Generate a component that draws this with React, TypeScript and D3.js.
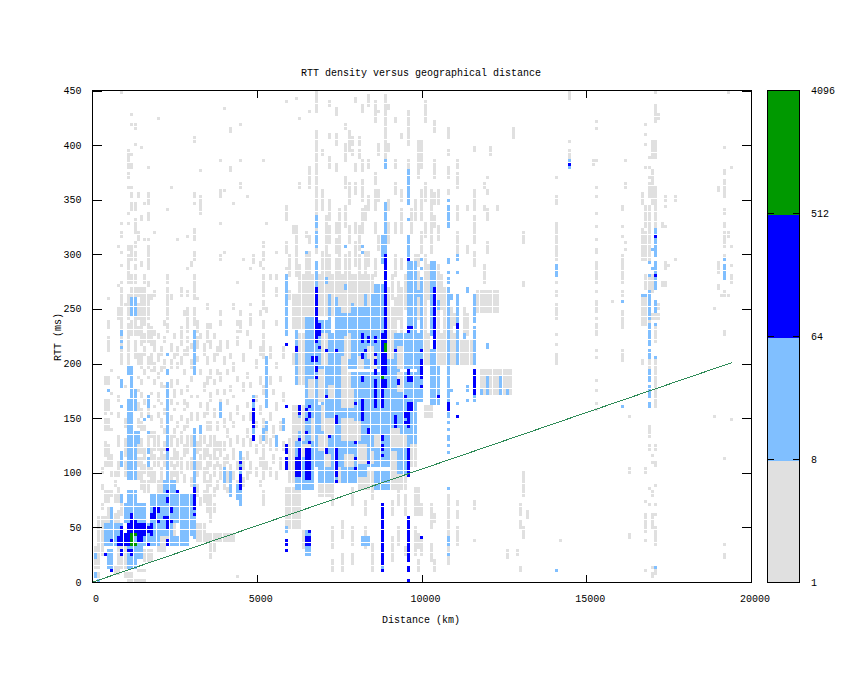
import React from "react";
import * as d3 from "d3";

// Bin sizes of the 2-D histogram
const binKm = 100;
const binMs = 3;

const xTicks = [0, 5000, 10000, 15000, 20000];
const yTicks = [0, 50, 100, 150, 200, 250, 300, 350, 400, 450];
const barTicks = [1, 8, 64, 512, 4096];
const levelColors = ["#e0e0e0", "#80bfff", "#0000ff", "#009900"];
const fitLine: [number, number][] = [[0, 0], [19400, 201]];

// Format of *Cols: [column (x100 km), msLow, msHigh, msLow, msHigh ...]
// Format of *Blocks: [colFrom, colTo, msLow, msHigh]
const grayBlocks: number[][] = [
  [7,9,14,32],[1,2,44,60],[0,1,14,24],[1,2,25,40],[0,1,3,8],[6,7,8,14],[9,11,3,8],[10,15,0,3],[13,15,9,12],[3,6,43,60],
  [29,33,45,53],[31,33,36,43],[33,37,38,45],[35,36,28,36],[38,42,36,44],[15,17,20,30],[19,24,40,53],[19,21,29,40],
  [62,84,260,281],[60,66,232,262],[68,79,243,262],[80,86,240,262],[59,66,90,100],[68,72,78,100],[74,78,90,105],[80,84,85,100],[90,94,85,100],[90,94,100,118],[58,62,50,85],
  [116,122,248,266],[111,114,199,220],[117,126,171,195],[100,102,150,162],[100,101,200,226],[104,106,199,226],[108,109,199,226],
  [166,168,235,262],[166,168,295,320],[167,168,324,345],[169,170,345,362],[169,170,396,405],[167,169,268,280],[169,171,240,245],
];
const grayCols: number[][] = [
  [0,12,14,28,33],[2,68,71,85,88,100,103],
  [3,182,189,153,167,138,150,115,127,105,110,74,83],[4,258,260,232,239,211,223,182,189,157,167,138,150,116,125,107,113,74,83,55,67],
  [5,192,195,171,174,153,156,138,141,107,116,98,102,80,83,61,67],[6,98,101,89,92,73,80,55,61],
  [7,306,308,270,272,240,251,186,189,165,171,150,156,125,134,98,110,73,86,55,64],
  [8,448,450,327,329,317,319,301,303,288,290,273,275,266,270,252,263,240,251,231,239,200,226,60,70],[9,252,255,177,180,141,150,116,131,98,110],
  [10,388,395,384,386,378,383,370,374,360,363,337,339,327,329,303,308,296,299,290,293,282,288,273,281,260,264,240,260,226,236,200,226],
  [11,426,428,418,420,390,392,378,383,360,363,352,356,345,347,339,344,302,308,296,299,273,281,260,270,226,240],
  [12,415,420,399,401,345,347,339,344,325,332,318,323,306,312,296,302,285,290,273,281,262,270,240,260,226,240,205,220],
  [13,352,356,312,320,262,270,240,255,226,232,199,208,186,189,174,177,156,165,141,150,119,134,107,113,95,101],
  [14,397,399,330,335,288,292,266,270,226,238,240,262,217,226,195,208,180,186,168,174,150,159,138,147,119,131,104,113,86,101],
  [15,345,347,312,315,273,281,258,268,240,262,235,238,220,226,208,214,189,195,162,168,138,144,113,122,101,107,83,92],
  [16,378,381,352,356,345,350,330,339,312,315,302,308,285,298,270,275,240,262,232,235,226,230,220,226,195,205,186,189,150,159,125,134,98,104,83,92],
  [17,258,262,226,232,217,226,199,208,192,195,171,174,147,153,134,138,113,122,92,104],
  [18,318,320,262,265,226,230,211,220,192,199,180,186,159,162,122,138,107,116,92,101],
  [19,424,426,223,226,202,208,186,192,165,174,150,156,122,134,107,113,83,92],
  [20,208,214,192,197,177,183,162,165,141,150,113,122,95,104,83,92],
  [21,235,238,220,223,197,202,177,180,153,159,136,141,122,128,107,116],
  [22,339,341,273,281,260,268,253,256,240,262,230,235],[23,360,363,258,262,211,217,195,202,177,186,162,168,147,153,125,134,107,113,92,101],
  [24,223,226,205,208,168,177,156,159,134,141,113,122,98,107],[25,312,314,208,214,195,199,180,186,162,165,141,147,125,131,107,119,92,101],
  [26,262,270,226,232,217,223,200,205,171,177,147,153,128,137,101,113],[27,245,248,208,211,189,195,162,168,156,159,138,144,116,125,92,98],
  [28,316,318,285,288,262,265,236,250,230,236,220,224,208,214,174,180,159,165,141,150,119,134,104,110],[29,290,293,214,218,197,203,183,188,168,171,147,156,125,134,104,113,89,95],
  [30,402,407,352,355,345,347,312,322,296,302,274,281,262,272,258,260,235,250],[31,258,260,230,240,215,223,202,207,168,171,147,156,119,128,98,110,80,89],
  [32,375,378,345,353,336,344,223,226,189,195,159,165,122,134,104,116,70,77],[33,208,217,174,183,150,156,128,134,113,122,92,104,73,83],
  [34,250,255,230,235,220,226,199,205,180,188,153,165,138,145,116,125,101,110,73,92,64,70],[35,232,236,214,220,186,195,165,174,138,147,125,134,107,116,89,98,70,80,55,67,22,30],
  [36,222,226,202,208,180,186,150,159,125,134,113,122,98,107,80,86,64,70],[37,208,214,189,195,171,177,138,147,122,128,107,113,86,92],
  [38,384,386,356,358,351,353,327,329,296,298,245,248,235,238,211,220,183,192,156,168,116,128,95,107],[39,433,435,358,360,300,302,199,205,171,177,141,150,122,128,104,113,86,92],
  [40,214,220,189,195,162,168,134,141,110,116,92,101,83,86],[41,411,416,376,379,205,208,174,180,147,156,125,131,98,107,83,89],
  [42,345,347,250,253,192,199,168,171,141,147,113,122,95,101],[43,274,276,236,240,228,230,217,223,183,189,153,162,128,134,104,110,83,92,3,5],
  [44,418,420,384,386,362,364,245,248,230,240],[45,294,296,202,208,174,183,147,153,125,131,104,113,89,95],[46,351,353,226,230,186,192,159,165,134,141,113,119,95,101],
  [47,286,288,252,255,242,245,235,238,214,220,177,183,147,156,125,131,101,110],[48,293,299],[49,195,202,165,171,141,147,119,125,98,104],
  [50,245,248,290,292,208,214,180,189,153,162,128,134,107,113,89,92],[51,384,386,306,312,296,302,286,288,273,281,262,272,250,258,232,240,100,118,205,226,171,180,141,150,116,125,95,101,70,83],
  [52,328,330,248,251,192,199,159,168,128,138,104,110],[53,278,280,205,214,180,189,147,156,122,131,98,104],[54,171,177,134,144,110,116],
  [55,300,302,278,280,262,270,235,238,195,199,156,165,122,128,95,101],[56,183,189,138,147,104,113],[57,205,214,165,174,122,128],
  [58,286,288,438,440,330,345,300,310,262,270],
  [59,280,300,260,265,100,110],[60,320,325,200,210],[61,442,444,281,325],[62,424,426,360,365,270,290],[64,315,320,281,300],[65,430,432,360,380,310,316,281,303],
  [67,430,450,394,414,336,394,300,324],[69,340,360,390,396,281,303],[70,305,335,281,303],[71,435,440,405,410,380,390,330,350,281,300,310,325],[73,428,435,400,410,375,382,320,330,300,315,281,296],[74,305,340,281,303],
  [76,415,420,385,400,360,370,325,345,281,300],[77,395,412,345,365,281,303,310,325],[78,400,408,390,396],[79,438,444,376,382,355,365,320,330,290,310],[80,400,408,388,396,303,325,281,300],[81,430,438,375,385,350,368,320,340],[82,330,345,281,303],[83,436,446,380,385,340,352,290,303],
  [85,420,440,365,375,340,360,320,330,281,296],[86,430,432,390,400,350,360,305,318],[88,388,447,379,388],[89,432,436,394,400,340,350,310,330,226,270],
  [90,226,250,260,280],[91,420,425,380,385,355,365,320,330,226,260,281,300],[92,240,275],[93,405,410,350,358,320,340,226,270,285,295],[94,250,280],[95,400,430,378,385],[96,320,340],
  [97,330,350,226,300],[98,370,405,290,300,240,285],[99,380,405,330,360,300,320],[100,420,440,350,365,315,330,230,300],[101,260,290],[103,413,422,370,385,345,355,325,335],[102,300,360],[104,345,358,313,325,226,290],[105,250,280],[106,226,270],
  [107,405,415,390,395,370,380,355,360],[108,226,250],[109,235,245],[110,380,385,360,375,330,345,300,320],[112,226,250],[113,340,345,300,308,226,245],[115,395,398,340,360,310,335,290,302],[118,360,365,275,290,340,344],
  [119,370,372,355,358,330,340,300,310],[120,390,398],[122,340,345],[127,405,415],[130,310,320,270,275],
  [63,100,102,30,46],[72,70,90,30,50,10,20],[75,40,55,10,25],[78,35,50,70,85,15,25],[82,60,75,30,50],[84,75,85,10,35],[90,20,40,60,75],[92,70,85,35,50],[94,60,80,25,33],[97,25,50,60,85],
  [98,60,85,30,45,10,20],[99,62,70,36,42,24,35],[102,50,72,18,36],[103,54,62,10,20],[107,15,80],[110,35,50,57,65,70,75],[115,68,75,36,38],[125,22,30],[128,25,30],[129,60,70,50,55,10,14],[130,80,100,40,50],[131,58,65],
  [140,369,372,345,353,302,330,296,301,273,276,261,266,252,254,242,251,225,227,216,219,199,209],[141,36,38],
  [144,448,450,443,445,403,405,386,395],[151,381,387],[152,421,423,415,417,384,386,361,363,351,353,337,339,325,327,312,314,304,306,300,302,282,293,273,281,264,266,252,257,248,250,240,242,231,236,227,229,211,213,205,207,184,186,175,177,163,165,157,159],
  [157,255,257],[160,339,344,325,327,316,318,295,299,282,293,273,281,261,266,240,248,231,239,208,213,202,205],[161,384,386,360,365,309,311,304,306],[162,151,153,101,103,39,45],
  [166,345,355,320,322,262,264,200,204],[167,417,419,408,410,399,401,379,381,325,334,300,310,101,103,72,74,45,62,36,38,10,12],
  [168,387,390,379,381,369,372,362,364,352,358,334,344,315,322,240,260,196,204,160,162,132,143,120,126,85,87,70,72],[169,396,405,389,395,363,376,345,362,266,280,115,117,108,110,80,82,50,62,12,14,5,8],
  [170,447,450,429,437,421,428,396,405,389,395,345,362,334,344,324,334,270,275,220,232,160,205,106,111,120,126,88,90,70,72,60,62,33,50,8,12],
  [171,425,428,250,255],[172,324,328,270,275],[173,350,353,342,345,325,327,285,293,270,275],[174,288,291],[176,350,353,294,296],
  [188,150,152,250,252],[189,359,361,284,293,270,272,267,269],[190,261,263],[191,397,399,372,377,366,369,359,364,351,356,338,340,325,330,315,321,306,314,296,300,262,267,225,229,112,114,33,36,22,25],
  [192,448,450,315,321,262,264],[193,379,381,306,308,288,290,273,281,148,150],
];
const lightBlocks: number[][] = [
  [3,6,33,42],[3,8,42,53],[5,5,54,69],[4,5,13,28],[9,15,54,71],[10,12,72,82],[10,12,93,126],[10,13,127,136],[10,11,139,156],[10,12,158,168],[11,12,168,177],[11,11,179,190],[10,11,190,197],[11,12,243,260],
  [6,16,33,43],[10,12,14,32],[13,14,22,32],[15,19,33,53],[17,30,54,70],[17,20,70,81],[21,24,70,92],[25,29,70,81],[30,30,40,53],[20,23,43,53],[23,28,33,42],[26,29,43,53],
  [64,97,195,226],[64,67,160,195],[69,72,160,195],[73,74,160,226],[78,86,160,190],[87,92,160,226],[93,97,160,190],[61,97,105,160],[59,66,100,105],[61,66,85,100],[68,73,90,104],[75,79,90,104],[80,82,96,104],
  [85,89,85,100],[91,94,100,105],[58,58,226,281],[64,67,226,243],[68,70,226,240],[75,85,226,245],[79,84,245,250],[85,88,226,272],[95,97,226,293],
  [64,65,25,46],[81,83,34,41],[58,58,45,50],[87,87,10,17],[102,104,162,198],[102,103,199,213],[102,103,226,293],[98,99,165,226],
];
const grayPatches: number[][] = [
  [61,63,180,226],[68,69,165,195],[75,76,190,205],[75,77,175,190],[75,78,160,175],[84,85,195,205],
  [63,65,115,125],[68,70,120,135],[75,78,130,150],[70,72,135,150],[80,82,110,125],[59,60,100,130],[90,91,100,118],[62,62,140,148],
  [69,70,200,226],[76,77,205,226],[80,81,195,205],[83,84,205,215],[89,90,205,226],[92,93,195,215],[65,66,170,185],[71,72,170,180],[79,80,130,145],[85,86,125,135],[90,92,125,140],[93,94,125,135],[84,84,110,120],[70,71,105,115],[76,78,105,115],[96,97,105,125],[92,93,175,190],[60,61,130,160],[63,63,130,160],[66,66,130,150],[69,69,140,160],
];
const lightCols: number[][] = [
  [0,22,25,3,8],[1,0,3],[4,175,177],[8,227,230,220,222,214,216,177,186,160,162,106,120,72,81],[15,148,150],[16,161,171,150,153,135,137,118,122,106,112],
  [22,208,210,190,195,125,183,95,120,84,92],[30,226,230,190,226,92,140,70,91],[32,136,144],[38,150,165],[39,90,104],[41,80,92,95,100],[44,70,120],[43,75,90],[48,160,171,134,140],[52,140,147,160,205],
  [57,140,150],[55,125,135],[51,130,140],
  [61,226,230,181,226],[67,324,335,315,321,306,314,272,292,226,268],[64,300,303],[76,306,309,268,272],[81,306,309,300,303],[70,275,278],[73,226,260],[76,226,240],[71,226,262],[74,226,250],[78,226,255],[82,226,262],[84,245,262],
  [87,293,318],[88,300,348,379,385],[95,345,377,330,333,296,318],[99,296,296,287,288,226,278],[107,348,351,336,344,324,335,293,297,282,285,273,278,226,269,165,226,150,155,144,146,138,140,129,135,123,125,117,120,85,87,33,41,24,26],
  [110,294,299,282,285,226,262,236,250,199,226,162,165],[115,237,263,226,232,199,226,165,171],[112,224,226],[113,175,178,166,168,265,268],[119,215,217,173,189],[123,173,189],[117,173,175],[125,173,175],[108,175,177,260,262],[104,250,258],[98,190,220,262,265],
  [140,287,290,282,285,279,281,9,11],[144,384,386,378,381],[160,255,257,160,162],
  [168,291,293,279,281,261,266,240,260,231,236,220,230,216,219,205,213,190,195,183,189,178,180,169,176,160,165],[166,261,263],[167,261,263],
  [170,318,323,303,314,299,302,282,293,269,278,246,257,234,236,205,207,13,15],[169,303,306,285,288],[191,294,296,283,290,276,281],
];
const blueBlocks: number[][] = [
  [10,15,44,53],[16,16,46,50],[11,11,53,62],[12,12,54,57],[9,11,34,44],[13,14,36,42],[7,8,34,40],[8,8,40,50],[17,17,44,53],[17,18,57,63],[18,18,64,69],[19,19,65,68],
];
const blueCols: number[][] = [
  [3,24,27],[5,36,39,9,12],[8,25,30],[10,27,30],[11,24,30],[16,33,36],[19,54,57],[21,57,60],[22,48,60,33,38,74,77,81,84,120,123],[23,63,69,54,57],[25,81,84],[30,73,87,68,71,60,63],
  [44,109,111,102,104,84,99],[48,165,167,148,159,141,146,129,135],
  [58,216,218,160,162,117,125,105,113,102,104,33,38,27,29],[61,211,216,105,113,96,104],[62,157,162,153,155,129,132,115,122,105,113,96,103],
  [64,156,159,148,150,136,138,115,122,105,113,95,104,33,41],[65,160,162,150,155,127,129,115,122,105,113,95,104,33,41,45,48],[66,201,205],
  [67,220,268,201,205,192,198,186,189],[68,213,215,226,235],[70,211,213,169,171,117,122],[71,132,134],[73,211,213,144,153,115,122,105,113,96,104,90,93],
  [79,162,165,126,128,111,114,102,104],[81,220,226,204,209,183,189,148,168],[82,211,213],[83,220,223,136,141,108,111],
  [85,220,223,207,210,199,204,190,195,160,186],[87,220,226,211,218,199,210,190,198,159,186,131,133,122,125,115,117,17,72,9,11],[88,226,300,220,226,199,210,190,198,177,186],
  [91,211,213,141,153],[92,180,186],[94,169,171,150,155,144,146],[95,190,194,183,189,157,165,142,155,115,122,105,113,96,104,19,60,13,15,9,11,1,3,294,296,231,234,228,230],[96,183,189,157,165,231,234],
  [99,211,213,199,204,190,198,186,189,177,180,39,41],[103,226,269,220,226,213,218],[104,168,171],[107,157,165],[110,231,236,150,153],[115,177,195,171,177],
  [144,381,383],[170,315,317,279,281],
];
const greenCols: number[][] = [
  [11,33,45],[12,42,45,33,36],[87,186,189],[88,211,218],
];

type Cell = { key: string; col: number; row: number };
function expandCols(list: number[][], tag: string): Cell[] {
  const out: Cell[] = [];
  list.forEach((e, i) => {
    for (let p = 1; p + 1 < e.length; p += 2) {
      const r0 = Math.floor(e[p] / binMs);
      const r1 = Math.max(r0, Math.ceil(e[p + 1] / binMs) - 1);
      for (let r = r0; r <= r1; r++) out.push({ key: `${tag}c${i}-${p}-${r}`, col: e[0], row: r });
    }
  });
  return out;
}
function expandBlocks(list: number[][], tag: string): Cell[] {
  const out: Cell[] = [];
  list.forEach((b, i) => {
    for (let c = b[0]; c <= b[1]; c++) {
      const r0 = Math.floor(b[2] / binMs);
      const r1 = Math.max(r0, Math.ceil(b[3] / binMs) - 1);
      for (let r = r0; r <= r1; r++) out.push({ key: `${tag}b${i}-${c}-${r}`, col: c, row: r });
    }
  });
  return out;
}

const mono = "'Liberation Mono', monospace";

export default function App() {
  const x = d3.scaleLinear().domain([0, 20000]).range([93, 752]);
  const y = d3.scaleLinear().domain([0, 450]).range([582, 90.5]);
  const bar = d3.scaleLog().base(2).domain([1, 4096]).range([582, 90.5]);
  const line = d3.line<[number, number]>().x((d) => x(d[0])).y((d) => y(d[1]));

  const layers: { color: string; cells: Cell[] }[] = [
    { color: levelColors[0], cells: [...expandBlocks(grayBlocks, "g"), ...expandCols(grayCols, "g")] },
    { color: levelColors[1], cells: expandBlocks(lightBlocks, "l") },
    { color: levelColors[0], cells: expandBlocks(grayPatches, "p") },
    { color: levelColors[1], cells: expandCols(lightCols, "l") },
    { color: levelColors[2], cells: [...expandBlocks(blueBlocks, "b"), ...expandCols(blueCols, "b")] },
    { color: levelColors[3], cells: expandCols(greenCols, "v") },
  ];
  const text: React.CSSProperties = { fontFamily: mono, fontSize: 10, fill: "#000" };

  return (
    <svg width={845} height={673} style={{ position: "absolute", left: 0, top: 0, background: "#fff" }}>
      <g shapeRendering="crispEdges">
        {layers.map((l, i) => (
          <g key={i} fill={l.color}>
            {l.cells.map((c) => (
              <rect
                key={c.key}
                x={Math.round(x(c.col * binKm)) + 1}
                y={Math.round(y((c.row + 1) * binMs))}
                width={3}
                height={3}
              />
            ))}
          </g>
        ))}
        <path d={line(fitLine) ?? ""} fill="none" stroke="#2e8b57" strokeWidth={1} />
        <rect x={92.5} y={90.5} width={659} height={491.5} fill="none" stroke="#000" />
        {xTicks.map((t) => (
          <g key={t} stroke="#000">
            <line x1={Math.round(x(t)) - 0.5} x2={Math.round(x(t)) - 0.5} y1={582} y2={575} />
            <line x1={Math.round(x(t)) - 0.5} x2={Math.round(x(t)) - 0.5} y1={91} y2={98} />
          </g>
        ))}
        {yTicks.map((t) => (
          <g key={t} stroke="#000">
            <line x1={92} x2={102} y1={Math.round(y(t)) + 0.5} y2={Math.round(y(t)) + 0.5} />
            <line x1={742} x2={752} y1={Math.round(y(t)) + 0.5} y2={Math.round(y(t)) + 0.5} />
          </g>
        ))}
        {levelColors.map((c, i) => {
          const top = i === 3 ? bar(barTicks[4]) : bar(barTicks[i + 1]) + 1.5;
          const bottom = i === 0 ? bar(barTicks[0]) : bar(barTicks[i]) + 1.5;
          return <rect key={c} x={767} width={32} y={top} height={bottom - top} fill={c} />;
        })}
        <rect x={767.5} y={90.5} width={32} height={491.5} fill="none" stroke="#000" />
        {barTicks.slice(1, -1).map((t) => (
          <g key={t} stroke="#000">
            <line x1={768} x2={774} y1={Math.round(bar(t)) + 0.5} y2={Math.round(bar(t)) + 0.5} />
            <line x1={793} x2={799} y1={Math.round(bar(t)) + 0.5} y2={Math.round(bar(t)) + 0.5} />
          </g>
        ))}
      </g>
      <text x={421} y={75.5} textAnchor="middle" style={text}>RTT density versus geographical distance</text>
      <text x={421} y={622.5} textAnchor="middle" style={text}>Distance (km)</text>
      <text transform="translate(61,337) rotate(-90)" textAnchor="middle" style={text}>RTT (ms)</text>
      {xTicks.map((t) => (
        <text key={t} x={x(t) + 3} y={602} textAnchor="middle" style={text}>{t}</text>
      ))}
      {yTicks.map((t) => (
        <text key={t} x={81.5} y={y(t) + 3.5} textAnchor="end" style={text}>{t}</text>
      ))}
      {barTicks.map((t) => (
        <text key={t} x={811} y={bar(t) + 3.5} style={text}>{t}</text>
      ))}
    </svg>
  );
}
